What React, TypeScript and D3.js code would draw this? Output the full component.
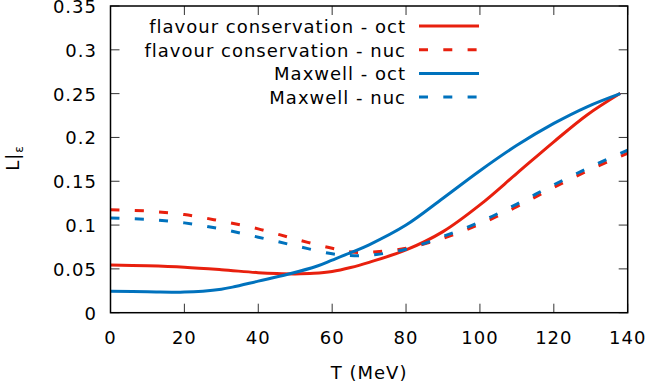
import React from "react";
import * as d3 from "d3";

// Temperature grids (MeV)
const flavourOctT = [0, 10, 20, 30, 40, 45, 50, 55, 60, 65, 70, 80, 90, 100, 110, 120, 129, 138];
const maxwellOctT = [0, 10, 20, 25, 30, 33, 40, 48, 56, 60, 65, 70, 80, 90, 100, 110, 120, 129, 138];
const nucT = [0, 10, 20, 30, 40, 50, 60, 66, 72, 80, 90, 100, 110, 120, 130, 140];

// L|ε for each scenario
const flavourOct = [0.0545, 0.0535, 0.0518, 0.049, 0.0457, 0.0447, 0.0443, 0.0449, 0.047, 0.0515, 0.0575, 0.0716, 0.0925, 0.123, 0.159, 0.195, 0.2257, 0.2504];
const maxwellOct = [0.0245, 0.024, 0.0235, 0.0245, 0.0268, 0.0292, 0.036, 0.0438, 0.0533, 0.06, 0.0685, 0.0775, 0.1, 0.1306, 0.162, 0.191, 0.216, 0.235, 0.25];
const flavourNuc = [0.1175, 0.116, 0.112, 0.1045, 0.0957, 0.084, 0.0735, 0.069, 0.0696, 0.0735, 0.085, 0.101, 0.121, 0.143, 0.1635, 0.182];
const maxwellNuc = [0.108, 0.1065, 0.1025, 0.0955, 0.0862, 0.0765, 0.0672, 0.065, 0.0665, 0.0724, 0.087, 0.1035, 0.124, 0.146, 0.1665, 0.1855];

const xTicks = [0, 20, 40, 60, 80, 100, 120, 140];
const yTicks = [0, 0.05, 0.1, 0.15, 0.2, 0.25, 0.3, 0.35];
const yTickLabels = ["0", "0.05", "0.1", "0.15", "0.2", "0.25", "0.3", "0.35"];

const RED = "#e8200e";
const BLUE = "#0072bd";

const series = [
  { name: "flavour conservation - oct", t: flavourOctT, v: flavourOct, color: RED, dashed: false },
  { name: "flavour conservation - nuc", t: nucT, v: flavourNuc, color: RED, dashed: true },
  { name: "Maxwell - oct", t: maxwellOctT, v: maxwellOct, color: BLUE, dashed: false },
  { name: "Maxwell - nuc", t: nucT, v: maxwellNuc, color: BLUE, dashed: true },
];

const W = 650;
const H = 385;
const left = 110.5;
const right = 627.7;
const top = 6;
const bottom = 312.7;
const font = "'DejaVu Sans', sans-serif";
const DASH = "9 15.3";

export default function App() {
  const x = d3.scaleLinear().domain([0, 140]).range([left, right]);
  const y = d3.scaleLinear().domain([0, 0.35]).range([bottom, top]);
  const line = d3
    .line<[number, number]>()
    .x((d) => x(d[0]))
    .y((d) => y(d[1]))
    .curve(d3.curveCatmullRom.alpha(0.5));

  const tickLen = 9;
  const textStyle = { fontFamily: font, fontSize: 18, letterSpacing: 1, fill: "#000" } as const;

  return (
    <svg width={W} height={H} style={{ position: "absolute", left: 0, top: 0 }}>
      <rect width={W} height={H} fill="#fff" />
      <defs>
        <clipPath id="plot-area">
          <rect x={left} y={top} width={right - left} height={bottom - top} />
        </clipPath>
      </defs>

      {/* ticks on all four sides */}
      {xTicks.map((t) => (
        <g key={"xt" + t} stroke="#333" strokeWidth={1}>
          <line x1={x(t)} x2={x(t)} y1={bottom} y2={bottom - tickLen} />
          <line x1={x(t)} x2={x(t)} y1={top} y2={top + tickLen} />
        </g>
      ))}
      {yTicks.map((v) => (
        <g key={"yt" + v} stroke="#333" strokeWidth={1}>
          <line x1={left} x2={left + tickLen} y1={y(v)} y2={y(v)} />
          <line x1={right} x2={right - tickLen} y1={y(v)} y2={y(v)} />
        </g>
      ))}

      {/* tick labels */}
      {xTicks.map((t) => (
        <text key={"xl" + t} x={x(t)} y={344} textAnchor="middle" style={textStyle}>
          {t}
        </text>
      ))}
      {yTicks.map((v, i) => (
        <text key={"yl" + v} x={97} y={y(v) + 7} textAnchor="end" style={textStyle}>
          {yTickLabels[i]}
        </text>
      ))}

      {/* axis titles */}
      <text x={(left + right) / 2} y={379} textAnchor="middle" style={textStyle}>
        T (MeV)
      </text>
      <text transform="translate(19,158) rotate(-90)" textAnchor="middle" style={textStyle}>
        L|
        <tspan fontSize={12} dy={4}>ε</tspan>
      </text>

      {/* curves */}
      <g clipPath="url(#plot-area)">
        {series.map((s) => (
          <path
            key={s.name}
            d={line(s.t.map((t, i) => [t, s.v[i]] as [number, number])) || ""}
            fill="none"
            stroke={s.color}
            strokeWidth={3}
            strokeDasharray={s.dashed ? DASH : undefined}
          />
        ))}
      </g>

      {/* legend */}
      {series.map((s, i) => {
        const ly = 26 + i * 23.7;
        return (
          <g key={"lg" + s.name}>
            <text x={406} y={ly + 7} textAnchor="end" style={textStyle}>
              {s.name}
            </text>
            <line
              x1={419}
              x2={479}
              y1={ly}
              y2={ly}
              stroke={s.color}
              strokeWidth={3}
              strokeDasharray={s.dashed ? DASH : undefined}
            />
          </g>
        );
      })}

      {/* frame */}
      <rect x={left} y={top} width={right - left} height={bottom - top} fill="none" stroke="#000" strokeWidth={1.5} />
    </svg>
  );
}
